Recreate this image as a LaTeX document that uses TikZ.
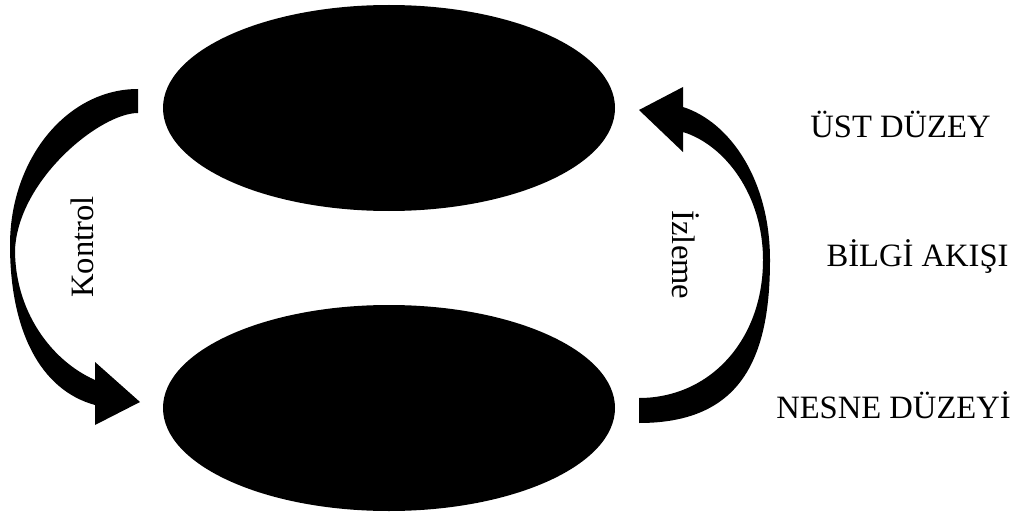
\documentclass[tikz,border=0pt]{standalone}
\usepackage{fontspec}
\setmainfont{Liberation Serif}
\usetikzlibrary{shapes.geometric}
\begin{document}
\begin{tikzpicture}[x=1pt,y=-1pt,
  blob/.style={ellipse, fill=black, minimum width=452pt, minimum height=206pt, inner sep=0pt},
  lbl/.style={font=\fontsize{32.6}{38}\selectfont, inner sep=0pt, anchor=base},
  bigarrow/.style={fill=black}]
\useasboundingbox (0,0) rectangle (1022,516);
\node[blob] (top) at (389,108) {};
\node[blob] (bot) at (389,408) {};
% left curved arrow (Kontrol)
\coordinate (ltail) at (138,89);
\fill[bigarrow] (ltail)
  .. controls (67,89) and (10,159) .. (10,245)
  .. controls (10,330) and (40,390) .. (95,405)
  -- (95,425) -- (140,402) -- (95,362) -- (95,380)
  .. controls (50,360) and (15,310) .. (15,250)
  .. controls (18,180) and (100,113) .. (138,113)
  -- cycle;
% right curved arrow (Izleme)
\coordinate (rtail) at (639,423);
\fill[bigarrow] (rtail)
  .. controls (740,423) and (770,360) .. (770,260)
  .. controls (770,180) and (730,122) .. (683,107)
  -- (683,87) -- (639,110) -- (683,152) -- (683,132)
  .. controls (725,145) and (763,195) .. (763,260)
  .. controls (763,340) and (710,398) .. (639,398)
  -- cycle;
\node[lbl, rotate=90] (kontrol) at (93,247) {Kontrol};
\node[lbl, rotate=-90] (izleme) at (672,255) {İzleme};
\node[lbl] (ust) at (900.5,138) {ÜST DÜZEY};
\node[lbl] (bilgi) at (917.5,266) {BİLGİ AKIŞI};
\node[lbl] (nesne) at (893.5,418) {NESNE DÜZEYİ};
\end{tikzpicture}
\end{document}
